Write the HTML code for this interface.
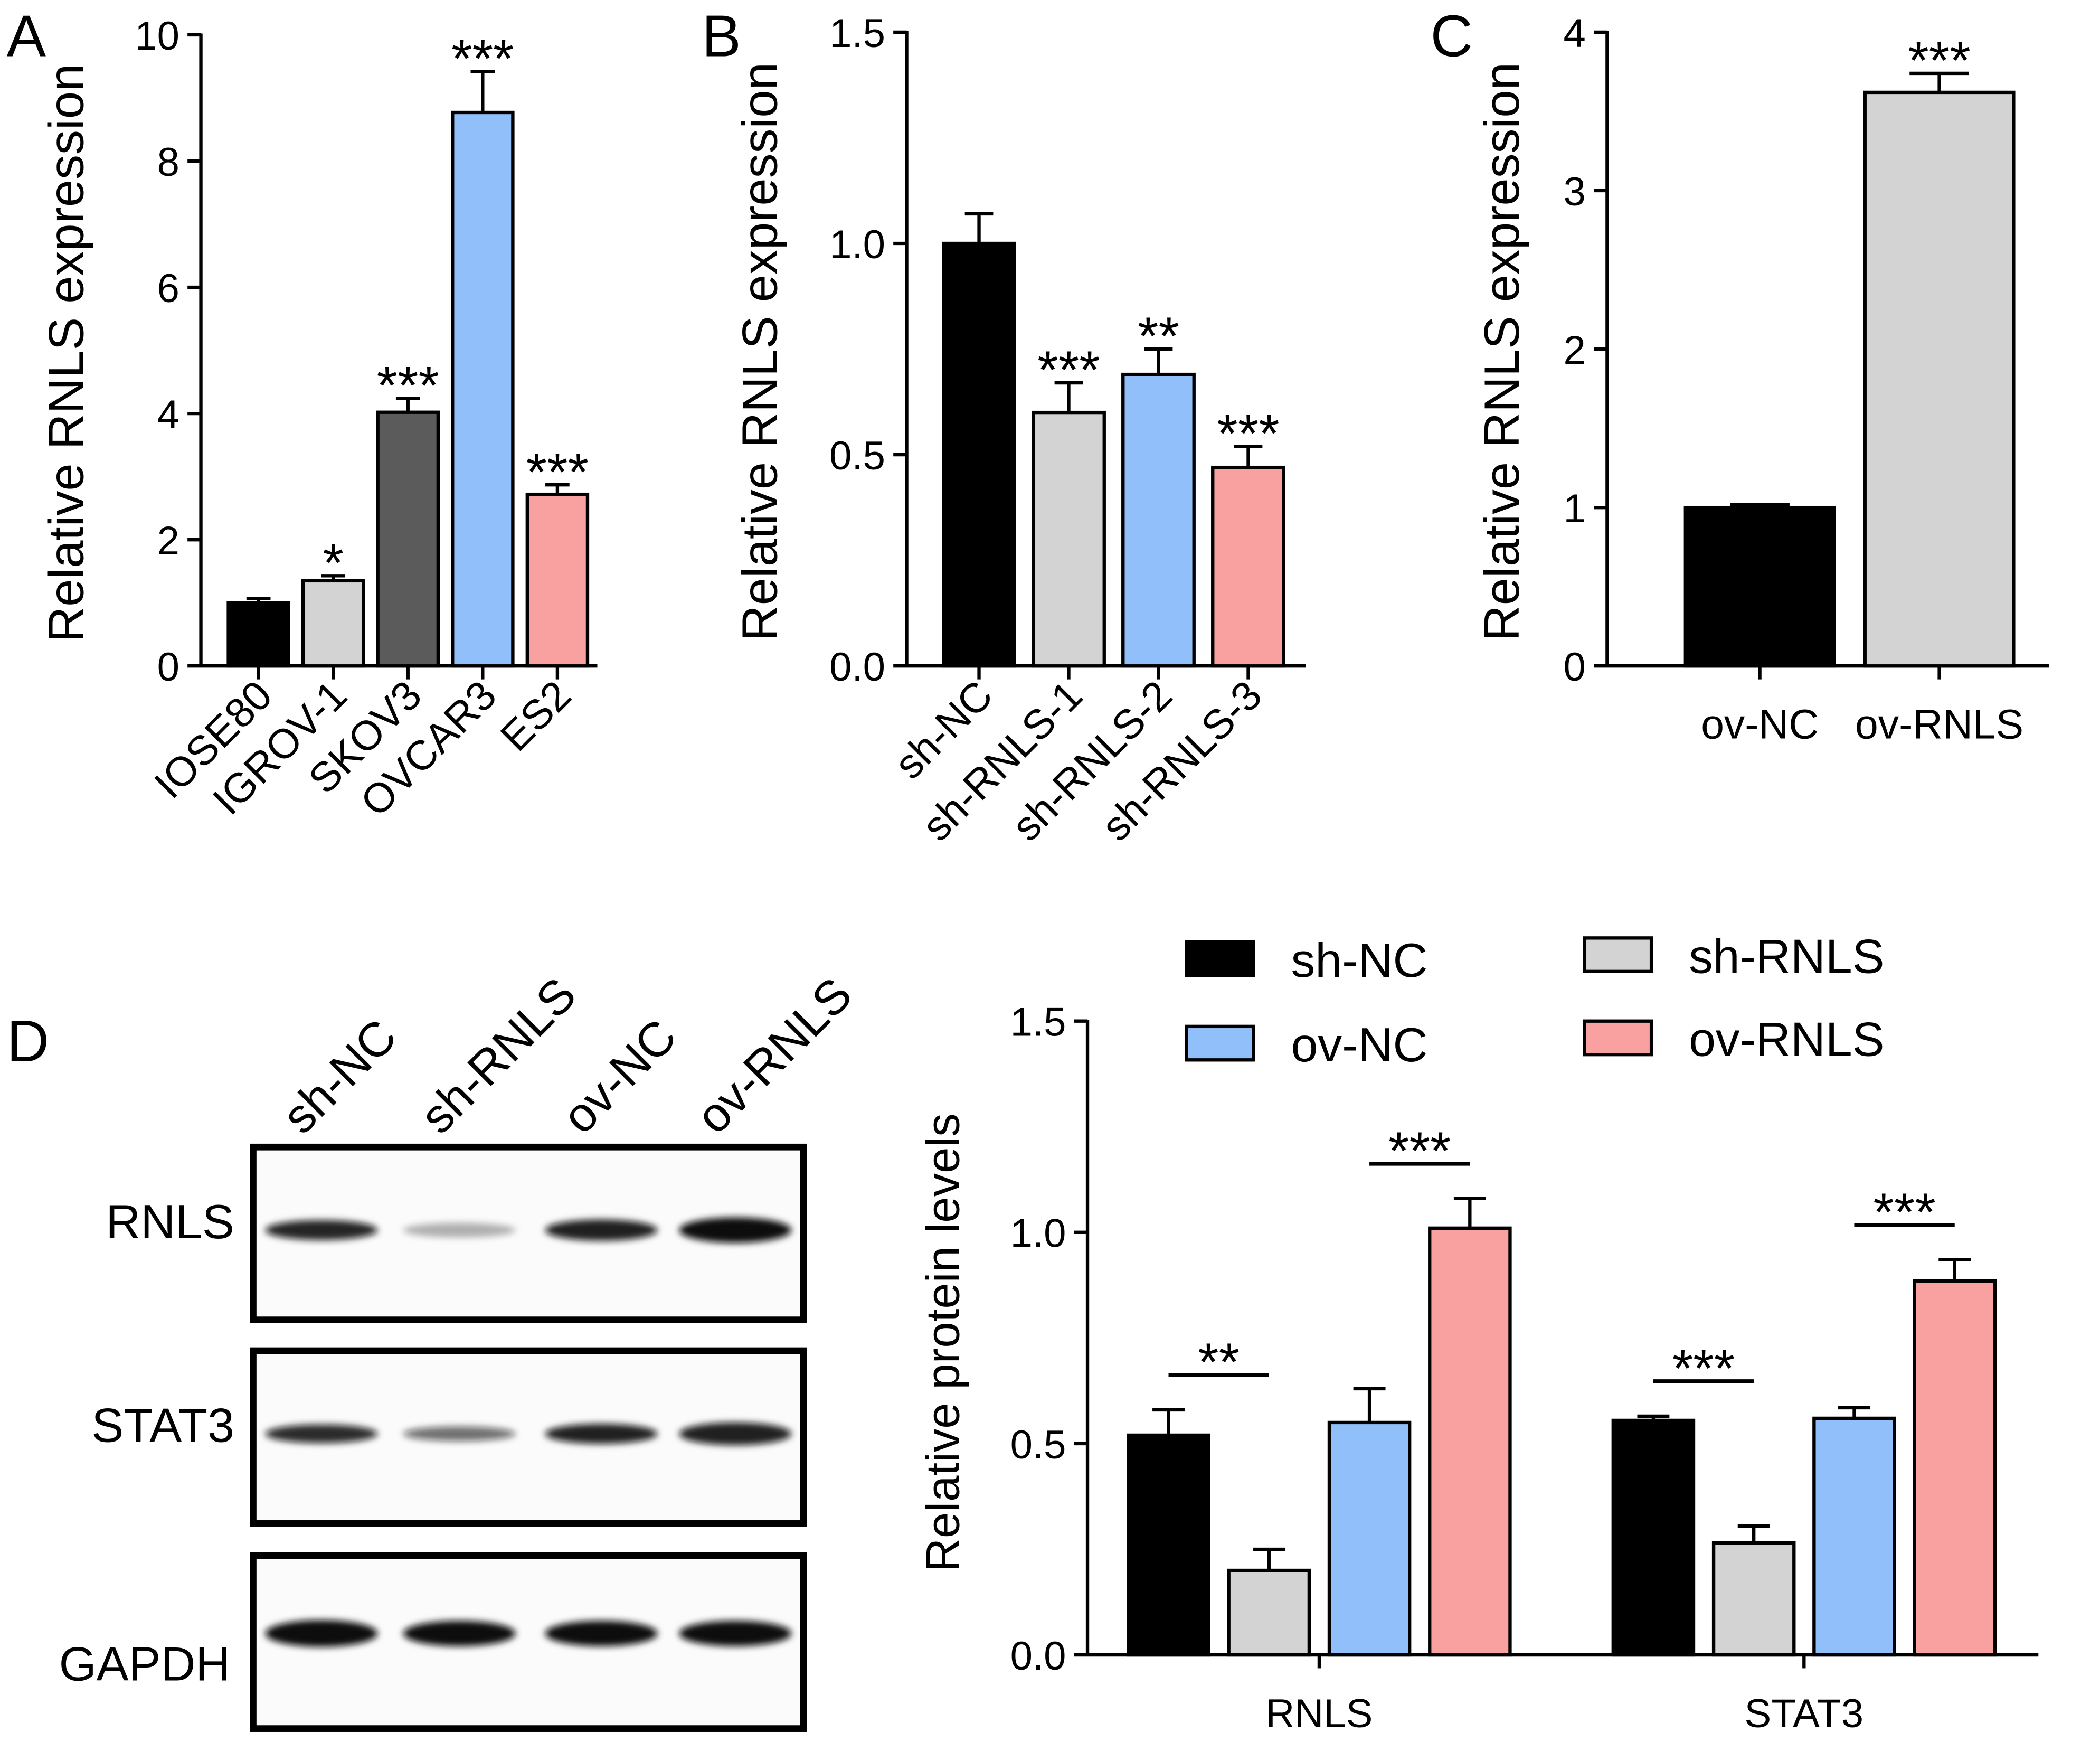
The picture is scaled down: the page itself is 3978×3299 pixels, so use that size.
<!DOCTYPE html>
<html><head><meta charset="utf-8"><style>
html,body{margin:0;padding:0;background:#fff}
svg{display:block;font-family:"Liberation Sans",Arial,sans-serif}
</style></head><body>
<svg id="fig" width="3978" height="3299" viewBox="0 0 1568 1300" preserveAspectRatio="none" xmlns="http://www.w3.org/2000/svg">
<defs><filter id="blur" x="-20%" y="-50%" width="140%" height="200%"><feGaussianBlur stdDeviation="2.5"/></filter></defs>
<g id="root"></g>
</svg>
<script>
// Panel A data
const aCats=["IOSE80","IGROV-1","SKOV3","OVCAR3","ES2"];
const aVals=[1.0,1.35,4.02,8.77,2.72];
const aErrs=[0.07,0.08,0.22,0.65,0.15];
const aSig=["","*","***","***","***"];
const aTicks=[0,2,4,6,8,10];
// Panel B data
const bCats=["sh-NC","sh-RNLS-1","sh-RNLS-2","sh-RNLS-3"];
const bVals=[1.0,0.60,0.69,0.47];
const bErrs=[0.07,0.07,0.06,0.05];
const bSig=["","***","**","***"];
const bTicks=[0.0,0.5,1.0,1.5];
// Panel C data
const cCats=["ov-NC","ov-RNLS"];
const cVals=[1.0,3.62];
const cErrs=[0.02,0.12];
const cSig=["","***"];
const cTicks=[0,1,2,3,4];
// Panel D data
const dGroups=["RNLS","STAT3"];
const dSeries=["sh-NC","sh-RNLS","ov-NC","ov-RNLS"];
const dVals=[[0.52,0.20,0.55,1.01],[0.555,0.265,0.56,0.885]];
const dErrs=[[0.06,0.05,0.08,0.07],[0.01,0.04,0.025,0.05]];
const dSig=[["**","***"],["***","***"]];
const dTicks=[0.0,0.5,1.0,1.5];

const NS="http://www.w3.org/2000/svg";
const root=document.getElementById('root');
function el(tag,attrs,parent,text){const e=document.createElementNS(NS,tag);for(const k in attrs)e.setAttribute(k,attrs[k]);if(text!==undefined)e.textContent=text;(parent||root).appendChild(e);return e;}
const colsA=["#000","#d3d3d3","#5b5b5b","#90bff9","#f9a0a0"];
const colsB=["#000","#d3d3d3","#90bff9","#f9a0a0"];
const colsC=["#000","#d3d3d3"];

function barPanel(o){
  const g=el('g',{});
  
  
  const y=v=>o.y0-(v-o.min)/(o.max-o.min)*(o.y0-o.y1);
  const ya=el('line',{x1:o.ax,y1:o.y1-1,x2:o.ax,y2:o.y0+1,stroke:'#000','stroke-width':2.5},g);
  
  const xa=el('line',{x1:o.ax,y1:o.y0,x2:o.axEnd,y2:o.y0,stroke:'#000','stroke-width':2.5},g);
  
  o.ticks.forEach(t=>{
    el('line',{x1:o.ax-10,y1:y(t),x2:o.ax,y2:y(t),stroke:'#000','stroke-width':2.5},g);
    const tl=el('text',{x:o.ax-16,y:y(t)+11,'font-size':30,'text-anchor':'end'},g,o.fmt(t));
    
  });
  const yt=el('text',{x:0,y:0,'font-size':37,'text-anchor':'middle',transform:`translate(${o.titleX},${(o.y0+o.y1)/2+2}) rotate(-90)`},g,o.title);
  
  o.cats.forEach((c,i)=>{
    const cx=o.x0+i*o.step, v=o.vals[i], e=o.errs[i];
    const w=o.bw;
    el('line',{x1:cx,y1:y(v+e),x2:cx,y2:y(v),stroke:'#000','stroke-width':2.5},g);
    el('line',{x1:cx-w*0.2,y1:y(v+e),x2:cx+w*0.2,y2:y(v+e),stroke:'#000','stroke-width':2.5},g);
    const b=el('rect',{x:cx-w/2,y:y(v),width:w,height:o.y0-y(v),fill:o.cols[i],stroke:'#000','stroke-width':2.5},g);
    
    el('line',{x1:cx,y1:o.y0,x2:cx,y2:o.y0+10,stroke:'#000','stroke-width':2.5},g);
    if(o.sig[i]){const s=el('text',{x:cx,y:y(v+e)+4,'font-size':40,'text-anchor':'middle'},g,o.sig[i]);
      }
    let lab;
    if(o.rot){lab=el('text',{'font-size':31,'text-anchor':'end',transform:`translate(${cx+12},${o.y0+24}) rotate(-45)`},g,c);}
    else {lab=el('text',{x:cx,y:o.y0+54,'font-size':31,'text-anchor':'middle'},g,c);}
    
  });
  const pl=el('text',{x:o.letterX,y:42,'font-size':44},g,o.letter);
  
}
barPanel({name:'panel-a-chart',letter:'A',letterX:5,ax:150,axEnd:446,y0:497,y1:26,min:0,max:10,ticks:aTicks,fmt:t=>String(t),titleX:62,title:'Relative RNLS expression',cats:aCats,vals:aVals,errs:aErrs,sig:aSig,cols:colsA,x0:193,step:55.8,bw:45,rot:true});
barPanel({name:'panel-b-chart',letter:'B',letterX:524,ax:677,axEnd:975,y0:497,y1:24,min:0,max:1.5,ticks:bTicks,fmt:t=>t.toFixed(1),titleX:580,title:'Relative RNLS expression',cats:bCats,vals:bVals,errs:bErrs,sig:bSig,cols:colsB,x0:731,step:67,bw:53,rot:true});
barPanel({name:'panel-c-chart',letter:'C',letterX:1068,ax:1200,axEnd:1530,y0:497,y1:24,min:0,max:4,ticks:cTicks,fmt:t=>String(t),titleX:1134,title:'Relative RNLS expression',cats:cCats,vals:cVals,errs:cErrs,sig:cSig,cols:colsC,x0:1314,step:134,bw:111,rot:false});

// Panel D chart
(function(){
  const g=el('g',{});
  
  const ax=812,y0=1235,y1=762,max=1.5;
  const y=v=>y0-v/max*(y0-y1);
  const ya=el('line',{x1:ax,y1:y1-1,x2:ax,y2:y0+1,stroke:'#000','stroke-width':2.5},g);
  
  const xa=el('line',{x1:ax,y1:y0,x2:1522,y2:y0,stroke:'#000','stroke-width':2.5},g);
  
  dTicks.forEach(t=>{
    el('line',{x1:ax-10,y1:y(t),x2:ax,y2:y(t),stroke:'#000','stroke-width':2.5},g);
    const tl=el('text',{x:ax-16,y:y(t)+11,'font-size':30,'text-anchor':'end'},g,t.toFixed(1));
    
  });
  const yt=el('text',{'font-size':35,'text-anchor':'middle',transform:`translate(716,1002) rotate(-90)`},g,'Relative protein levels');
  
  const gx=[985,1347], bw=60, step=75;
  dGroups.forEach((gn,gi)=>{
    dSeries.forEach((s,si)=>{
      const cx=gx[gi]+(si-1.5)*step, v=dVals[gi][si], e=dErrs[gi][si];
      el('line',{x1:cx,y1:y(v+e),x2:cx,y2:y(v),stroke:'#000','stroke-width':2.5},g);
      el('line',{x1:cx-12,y1:y(v+e),x2:cx+12,y2:y(v+e),stroke:'#000','stroke-width':2.5},g);
      const b=el('rect',{x:cx-bw/2,y:y(v),width:bw,height:y0-y(v),fill:colsB[si],stroke:'#000','stroke-width':2.5},g);
      
    });
    [[0,1],[2,3]].forEach((p,pi)=>{
      const x1=gx[gi]+(p[0]-1.5)*step, x2=gx[gi]+(p[1]-1.5)*step;
      const top=Math.max(dVals[gi][p[0]]+dErrs[gi][p[0]],dVals[gi][p[1]]+dErrs[gi][p[1]]);
      const ly=y(top)-26;
      el('line',{x1:x1,y1:ly,x2:x2,y2:ly,stroke:'#000','stroke-width':3},g);
      const s=el('text',{x:(x1+x2)/2,y:ly+4,'font-size':40,'text-anchor':'middle'},g,dSig[gi][pi]);
      
    });
    el('line',{x1:gx[gi],y1:y0,x2:gx[gi],y2:y0+10,stroke:'#000','stroke-width':2.5},g);
    const lab=el('text',{x:gx[gi],y:y0+54,'font-size':30,'text-anchor':'middle'},g,gn);
    
  });
  const lp=[[886,703],[1183,700],[886,766],[1183,762]];
  dSeries.forEach((s,si)=>{
    const le=el('g',{},g);
    
    el('rect',{x:lp[si][0],y:lp[si][1],width:50,height:25,fill:colsB[si],stroke:'#000','stroke-width':2.5},le);
    el('text',{x:lp[si][0]+78,y:lp[si][1]+26,'font-size':36},le,s);
  });
})();

// Western blot
(function(){
  const g=el('g',{});
  
  const pl=el('text',{x:5,y:792,'font-size':44},g,'D');
  
  const lanes=["sh-NC","sh-RNLS","ov-NC","ov-RNLS"], lx=[240,343,449,549];
  lanes.forEach((l,i)=>{
    const t=el('text',{'font-size':36,transform:`translate(${lx[i]-14},${848}) rotate(-45)`},g,l);
    
  });
  const rows=[["RNLS",856,[[0.9,11],[0.3,7],[0.92,12],[1,15]]],["STAT3",1008,[[0.88,10],[0.6,7],[0.92,11],[0.92,13]]],["GAPDH",1161,[[1,16],[1,15],[1,15],[1,15]]]];
  rows.forEach(r=>{
    const bx=el('rect',{x:189,y:r[1],width:411,height:129,fill:'#fbfbfb',stroke:'#000','stroke-width':5},g);
    
    r[2].forEach((b,i)=>{
      el('ellipse',{cx:lx[i],cy:r[1]+(r[0]=="GAPDH"?58:62),rx:42,ry:b[1]/2+2,fill:'#111','fill-opacity':b[0],filter:'url(#blur)'},g);
    });
    const t=el('text',{x:r[0]=="GAPDH"?172:175,y:r[1]+(r[0]=="GAPDH"?93:68),'font-size':36,'text-anchor':'end'},g,r[0]);
    
  });
})();
</script>
</body></html>
